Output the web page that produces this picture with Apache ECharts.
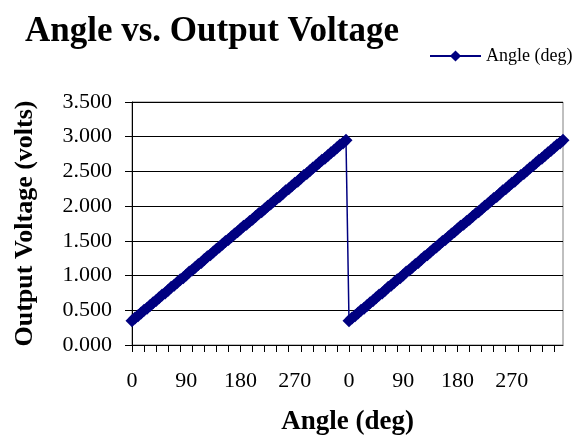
<!DOCTYPE html>
<html>
<head>
<meta charset="utf-8">
<script src="https://cdn.jsdelivr.net/npm/echarts@6/dist/echarts.min.js"></script>
<style>
  html, body { margin: 0; padding: 0; background: #fff; }
  #chart { width: 581px; height: 441px; }
</style>
</head>
<body>
<div id="chart"></div>
<script>
// angle steps of one turn (deg)
const turnAngles = [0,5,10,15,20,25,30,35,40,45,50,55,60,65,70,75,80,85,90,95,100,105,110,115,
  120,125,130,135,140,145,150,155,160,165,170,175,180,185,190,195,200,205,210,215,220,225,230,235,
  240,245,250,255,260,265,270,275,280,285,290,295,300,305,310,315,320,325,330,335,340,345,350,355]

// output voltage, first and second turn
const turn1Volts = [0.35,0.39,0.42,0.46,0.50,0.53,0.57,0.61,0.64,0.68,0.72,0.75,0.79,0.83,0.86,0.90,0.94,0.97,
  1.01,1.05,1.08,1.12,1.16,1.19,1.23,1.27,1.30,1.34,1.38,1.41,1.45,1.49,1.52,1.56,1.60,1.63,
  1.67,1.71,1.74,1.78,1.81,1.85,1.89,1.92,1.96,2.00,2.03,2.07,2.11,2.14,2.18,2.22,2.25,2.29,
  2.33,2.36,2.40,2.44,2.47,2.51,2.55,2.58,2.62,2.66,2.69,2.73,2.77,2.80,2.84,2.88,2.91,2.95]
const turn2Volts = [0.35,0.39,0.42,0.46,0.50,0.53,0.57,0.61,0.64,0.68,0.72,0.75,0.79,0.83,0.86,0.90,0.94,0.97,
  1.01,1.05,1.08,1.12,1.16,1.19,1.23,1.27,1.30,1.34,1.38,1.41,1.45,1.49,1.52,1.56,1.60,1.63,
  1.67,1.71,1.74,1.78,1.81,1.85,1.89,1.92,1.96,2.00,2.03,2.07,2.11,2.14,2.18,2.22,2.25,2.29,
  2.33,2.36,2.40,2.44,2.47,2.51,2.55,2.58,2.62,2.66,2.69,2.73,2.77,2.80,2.84,2.88,2.91,2.95]

const labelAngles = [0, 90, 180, 270]
const seriesName = 'Angle (deg)'

const categories = turnAngles.concat(turnAngles)
const volts = turn1Volts.concat(turn2Volts)

const font = '"Liberation Serif", "Times New Roman", serif'
const navy = '#000080'

const chart = echarts.init(document.getElementById('chart'), null, {renderer: 'canvas'})

chart.setOption({
  animation: false,
  backgroundColor: '#fff',
  textStyle: {fontFamily: font},
  title: {
    text: 'Angle vs. Output Voltage',
    left: 20,
    top: 9,
    textStyle: {fontFamily: font, fontSize: 35, fontWeight: 'bold', color: '#000'}
  },
  legend: {
    data: [seriesName],
    left: 424,
    top: 42,
    itemWidth: 51,
    itemHeight: 14,
    textStyle: {fontFamily: font, fontSize: 18, color: '#000'}
  },
  grid: {
    left: 132, right: 18, top: 102, bottom: 93,
    show: true, borderColor: '#808080', borderWidth: 1,
    containLabel: false
  },
  xAxis: {
    type: 'category',
    data: categories,
    boundaryGap: false,
    name: 'Angle (deg)',
    nameLocation: 'middle',
    nameGap: 64,
    nameTextStyle: {fontFamily: font, fontSize: 27, fontWeight: 'bold', color: '#000'},
    axisLine: {lineStyle: {color: '#000', width: 1}},
    axisTick: {
      show: true,
      length: 7,
      interval: (i) => i % 4 === 0,
      lineStyle: {color: '#000'}
    },
    axisLabel: {
      interval: (i, v) => i % 18 === 0 && labelAngles.includes(Number(v)),
      margin: 25,
      fontFamily: font,
      fontSize: 22,
      color: '#000'
    },
    splitLine: {show: false}
  },
  yAxis: {
    type: 'value',
    min: 0,
    max: 3.5,
    interval: 0.5,
    name: 'Output Voltage (volts)',
    nameLocation: 'middle',
    nameGap: 94,
    nameTextStyle: {fontFamily: font, fontSize: 26, fontWeight: 'bold', color: '#000'},
    axisLine: {show: true, lineStyle: {color: '#000', width: 1}},
    axisTick: {show: true, length: 7, lineStyle: {color: '#000'}},
    axisLabel: {
      formatter: (v) => v.toFixed(3),
      margin: 20,
      fontFamily: font,
      fontSize: 22,
      color: '#000'
    },
    splitLine: {show: true, lineStyle: {color: '#000', width: 1}}
  },
  series: [{
    name: seriesName,
    type: 'line',
    data: volts,
    symbol: 'diamond',
    symbolSize: 13,
    showAllSymbol: true,
    color: navy,
    itemStyle: {color: navy},
    lineStyle: {color: navy, width: 1.5}
  }]
})
</script>
</body>
</html>
